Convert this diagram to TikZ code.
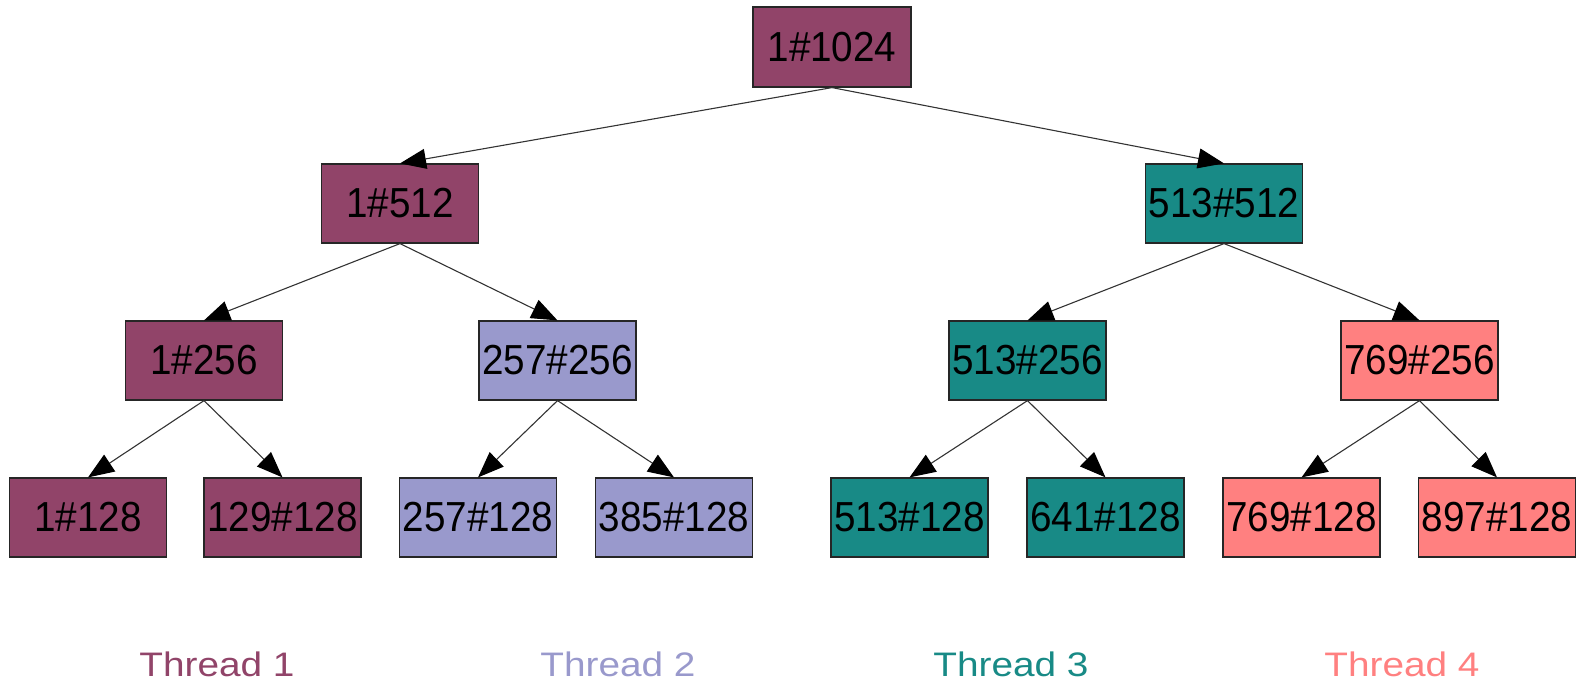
\documentclass[tikz,border=0pt]{standalone}
\usepackage{fontspec}
\setmainfont{Liberation Sans}
\newfontfamily\boxfont[FakeStretch=0.92]{Liberation Sans}
\newfontfamily\threadfont[FakeStretch=1.14]{Liberation Sans}
\usetikzlibrary{arrows.meta}

\definecolor{tone}{HTML}{914469}
\definecolor{ttwo}{HTML}{9999CC}
\definecolor{tthree}{HTML}{188A86}
\definecolor{tfour}{HTML}{FF8080}

\tikzset{
  task/.style={draw=black!85, line width=1.2pt, minimum width=157pt, minimum height=79pt,
    inner sep=0pt, font=\boxfont\fontsize{42}{42}\selectfont, text=black},
  split/.style={draw=black!80, line width=1.1pt,
    -{Triangle[length=26pt, width=20pt, color=black]}},
  threadlabel/.style={font=\threadfont\fontsize{34}{34}\selectfont, anchor=base,
    inner sep=0pt, text depth=0pt}
}

\begin{document}
\begin{tikzpicture}[x=1pt, y=-1pt]
  \useasboundingbox (0,0) rectangle (1576,680);

  % root
  \node[task, fill=tone, minimum width=158pt, minimum height=80pt] (r) at (832,47) {1\#1024};

  % second level
  \node[task, fill=tone] (a) at (400,203.5) {1\#512};
  \node[task, fill=tthree] (b) at (1224,203.5) {513\#512};

  % third level
  \node[task, fill=tone] (aa) at (204,360.5) {1\#256};
  \node[task, fill=ttwo] (ab) at (557.5,360.5) {257\#256};
  \node[task, fill=tthree] (ba) at (1027.5,360.5) {513\#256};
  \node[task, fill=tfour] (bb) at (1419.5,360.5) {769\#256};

  % leaves
  \node[task, fill=tone] (aaa) at (88,517.5) {1\#128};
  \node[task, fill=tone] (aab) at (282.5,517.5) {129\#128};
  \node[task, fill=ttwo] (aba) at (478,517.5) {257\#128};
  \node[task, fill=ttwo] (abb) at (674,517.5) {385\#128};
  \node[task, fill=tthree] (baa) at (909.5,517.5) {513\#128};
  \node[task, fill=tthree] (bab) at (1105.5,517.5) {641\#128};
  \node[task, fill=tfour] (bba) at (1301.5,517.5) {769\#128};
  \node[task, fill=tfour] (bbb) at (1497,517.5) {897\#128};

  % splits
  \foreach \p/\c in {r/a, r/b, a/aa, a/ab, b/ba, b/bb,
                     aa/aaa, aa/aab, ab/aba, ab/abb,
                     ba/baa, ba/bab, bb/bba, bb/bbb}
    \draw[split] (\p.south) -- (\c.north);

  % thread legend
  \node[threadlabel, text=tone] (l1) at (217,676) {Thread 1};
  \node[threadlabel, text=ttwo] (l2) at (618,676) {Thread 2};
  \node[threadlabel, text=tthree] (l3) at (1011,676) {Thread 3};
  \node[threadlabel, text=tfour] (l4) at (1402,676) {Thread 4};
\end{tikzpicture}
\end{document}
